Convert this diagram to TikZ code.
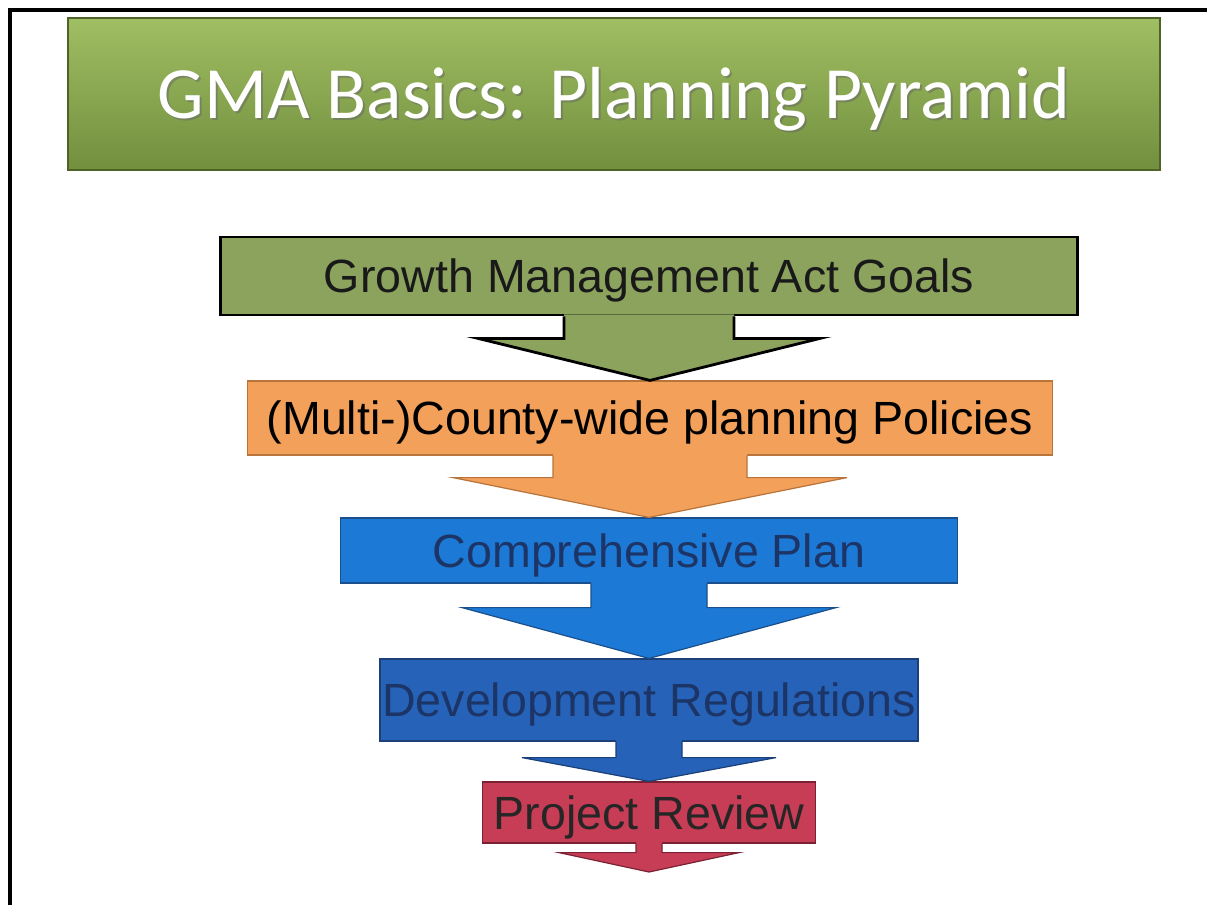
\documentclass[tikz,border=0pt]{standalone}
\usepackage{fontspec}
\setmainfont{Liberation Sans}
\newfontfamily\titlefont{Carlito}
\usetikzlibrary{calc}
\definecolor{tgreenT}{HTML}{A0BE62}
\definecolor{tgreenB}{HTML}{728F3F}
\definecolor{tgreenD}{HTML}{4F6228}
\definecolor{gfill}{HTML}{8CA35E}
\definecolor{ofill}{HTML}{F2A05A}
\definecolor{odraw}{HTML}{B8743A}
\definecolor{bfill}{HTML}{1C7AD6}
\definecolor{bdraw}{HTML}{1A4F8C}
\definecolor{dfill}{HTML}{2663B8}
\definecolor{ddraw}{HTML}{1B3F78}
\definecolor{rfill}{HTML}{C83D56}
\definecolor{rdraw}{HTML}{7A2233}
\definecolor{navytext}{HTML}{1C3566}
\newcommand\flowarrow[6]{%
  \fill[#1,draw=none] ($(#2.south)+(-#4,-2)$) -- ($(#2.south)+(-#4,#5)$) -- ($(#2.south)+(-#6,#5)$) -- (#3) -- ($(#2.south)+(#6,#5)$) -- ($(#2.south)+(#4,#5)$) -- ($(#2.south)+(#4,-2)$) -- cycle;
  \draw[#1,fill=none,line join=miter] ($(#2.south)+(-#4,0)$) -- ($(#2.south)+(-#4,#5)$) -- ($(#2.south)+(-#6,#5)$) -- (#3) -- ($(#2.south)+(#6,#5)$) -- ($(#2.south)+(#4,#5)$) -- ($(#2.south)+(#4,0)$);}
\tikzset{
  levelbox/.style={rectangle, inner sep=0pt, text height=16.7pt, text depth=0pt, font=\fontsize{23.3}{28}\selectfont},
  gbox/.style={levelbox, fill=gfill, draw=black, line width=1.4pt, text=black!90},
  obox/.style={levelbox, fill=ofill, draw=odraw, line width=0.6pt, text=black},
  bbox/.style={levelbox, fill=bfill, draw=bdraw, line width=0.6pt, text=navytext},
  dbox/.style={levelbox, fill=dfill, draw=ddraw, line width=0.6pt, text=navytext},
  rbox/.style={levelbox, fill=rfill, draw=rdraw, line width=0.6pt, text=black!85},
  garrow/.style={fill=gfill, draw=black, line width=1.4pt},
  oarrow/.style={fill=ofill, draw=odraw, line width=0.6pt},
  barrow/.style={fill=bfill, draw=bdraw, line width=0.6pt},
  darrow/.style={fill=dfill, draw=ddraw, line width=0.6pt},
  rarrow/.style={fill=rfill, draw=rdraw, line width=0.6pt},
  titlebox/.style={rectangle, inner sep=0pt, top color=tgreenT, bottom color=tgreenB, draw=tgreenD, line width=0.6pt},
  titletext/.style={inner sep=0pt, text height=23.7pt, text depth=0pt, font=\titlefont\fontsize{36.85}{44}\selectfont}
}
\begin{document}
\begin{tikzpicture}[x=0.5pt,y=-0.5pt]
\useasboundingbox (0,0) rectangle (1207,905);
\fill[white] (0,0) rectangle (1207,905);
% frame
\draw[black, line width=2pt] (1207,9.5) -- (9.5,9.5) -- (9.5,905);
% title
\node[titlebox, minimum width=546pt, minimum height=76pt] (title) at (614,94) {};
\node[titletext, text=black!60, opacity=0.5] (titleshadow) at (616,97) {GMA Basics: Planning Pyramid};
\node[titletext, text=white] (titlelabel) at (614,95) {GMA Basics: Planning Pyramid};
% levels
\node[gbox, minimum width=428.5pt, minimum height=39pt] (b1) at (649,276) {Growth Management Act Goals};
\node[obox, minimum width=402.5pt, minimum height=37pt] (b2) at (650,418) {(Multi-)County-wide planning Policies};
\node[bbox, minimum width=308.5pt, minimum height=32.5pt] (b3) at (649,550.5) {Comprehensive Plan};
\node[dbox, minimum width=269pt, minimum height=41pt] (b4) at (649,700) {Development Regulations};
\node[rbox, minimum width=166.5pt, minimum height=30.5pt] (b5) at (649,812.5) {Project Review};
\coordinate (end) at (649,872);
% arrows
\flowarrow{garrow}{b1}{b2.north}{85}{22}{171}
\flowarrow{oarrow}{b2}{b3.north}{97}{22}{197}
\flowarrow{barrow}{b3}{b4.north}{58}{24}{187}
\flowarrow{darrow}{b4}{b5.north}{33}{16}{127}
\flowarrow{rarrow}{b5}{end}{13}{9}{90}
\end{tikzpicture}
\end{document}
